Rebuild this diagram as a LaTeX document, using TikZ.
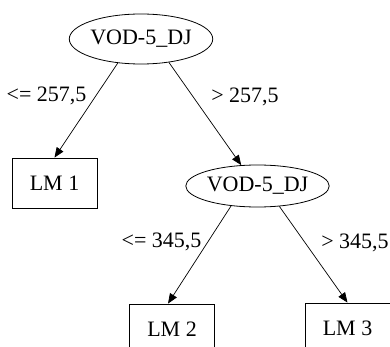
\documentclass[tikz,border=0pt]{standalone}
\usepackage{fontspec}
\setmainfont{Liberation Serif}
\usetikzlibrary{shapes.geometric,arrows.meta}
\begin{document}
\begin{tikzpicture}[x=1pt,y=-1pt,
  every node/.style={font=\fontsize{22}{24}\selectfont},
  split/.style={ellipse,draw,line width=0.8pt,inner sep=0pt},
  leaf/.style={rectangle,draw,line width=0.8pt,minimum width=85pt,minimum height=50pt,inner sep=0pt},
  edge/.style={draw,line width=0.7pt,-{Triangle[length=10pt,width=8pt]}},
  lbl/.style={anchor=base,inner sep=0pt}]
\useasboundingbox (0,0) rectangle (390,347);
\clip (0,0) rectangle (390,347);
\node[split,minimum width=142pt,minimum height=50pt] (e1) at (141,39) {VOD-5\_DJ};
\node[split,minimum width=141pt,minimum height=42pt] (e2) at (257.5,186) {VOD-5\_DJ};
\node[leaf] (lm1) at (54.5,183) {LM 1};
\node[leaf] (lm2) at (172,329) {LM 2};
\node[leaf] (lm3) at (347.5,328) {LM 3};
\draw[edge] (e1.226) -- (lm1.north);
\draw[edge] (e1.320) -- (e2.128);
\draw[edge] (e2.217) -- ([xshift=-4pt]lm2.north);
\draw[edge] (e2.317) -- (lm3.north);
\node[lbl] (l1) at (46.5,102) {<= 257,5};
\node[lbl] (l2) at (245,103) {> 257,5};
\node[lbl] (l3) at (161.5,247) {<= 345,5};
\node[lbl] (l4) at (355,248) {> 345,5};
\end{tikzpicture}
\end{document}
